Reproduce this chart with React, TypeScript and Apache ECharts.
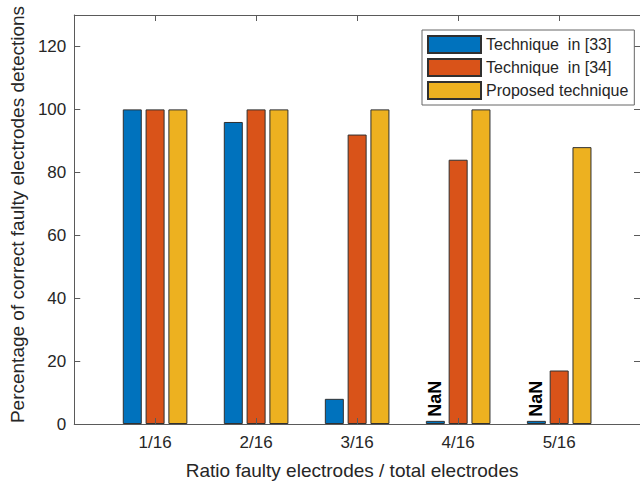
import React, { useEffect, useRef } from "react";
import * as echarts from "echarts";

// Fault ratios shown on the x axis
const categories = ["1/16", "2/16", "3/16", "4/16", "5/16"];
const positions = [1, 2, 3, 4, 5];

// Percentage of correct detections per technique (NaN cases drawn as a sliver)
const technique33 = [100, 96, 8, 1, 1];
const technique33NaN = [false, false, false, true, true];
const technique34 = [100, 100, 92, 84, 17];
const proposed = [100, 100, 100, 100, 88];

const yTicks = [0, 20, 40, 60, 80, 100, 120];

const seriesNames = ["Technique  in [33]", "Technique  in [34]", "Proposed technique"];
const colors = ["#0072BD", "#D95319", "#EDB120"];

const FONT = "'Liberation Sans', Arial, Helvetica, sans-serif";
const AXIS_COLOR = "#5a5a5a";
const TEXT_COLOR = "#262626";

export default function App() {
  const ref = useRef<HTMLDivElement>(null);

  useEffect(() => {
    if (!ref.current) return;
    const chart = echarts.init(ref.current, undefined, { renderer: "svg" });

    const barStyle = (i: number) => ({
      color: colors[i],
      borderColor: "#303030",
      borderWidth: 1,
    });

    const tickX = {
      show: true,
      inside: true,
      length: 6,
      customValues: positions,
      lineStyle: { color: AXIS_COLOR, width: 1 },
    };
    const tickY = {
      show: true,
      inside: true,
      length: 6,
      customValues: yTicks,
      lineStyle: { color: AXIS_COLOR, width: 1 },
    };

    chart.setOption({
      animation: false,
      backgroundColor: "#ffffff",
      textStyle: { fontFamily: FONT },
      grid: { left: 71, top: 15, width: 573, height: 409, containLabel: false },
      legend: {
        orient: "vertical",
        left: 422,
        top: 30,
        z: 10,
        padding: [5, 6, 5, 5],
        itemWidth: 53,
        itemHeight: 17,
        itemGap: 4,
        borderColor: "#666666",
        borderWidth: 1,
        backgroundColor: "#ffffff",
        icon: "rect",
        textStyle: { fontFamily: FONT, fontSize: 16, color: TEXT_COLOR, padding: [0, 0, 0, 0] },
        data: seriesNames,
      },
      xAxis: [
        {
          type: "value",
          min: 0.2,
          max: 5.8,
          position: "bottom",
          z: 5,
          axisLine: { show: true, onZero: false, lineStyle: { color: AXIS_COLOR, width: 1 } },
          axisTick: tickX,
          splitLine: { show: false },
          axisLabel: {
            customValues: positions,
            formatter: (v: number) => categories[Math.round(v) - 1] ?? "",
            fontFamily: FONT,
            fontSize: 17,
            color: TEXT_COLOR,
            margin: 10,
          },
          name: "Ratio faulty electrodes / total electrodes",
          nameLocation: "middle",
          nameGap: 37,
          nameTextStyle: {
            fontFamily: FONT,
            fontSize: 19,
            color: TEXT_COLOR,
            padding: [0, 10, 0, 0],
          },
        },
        {
          type: "value",
          min: 0.2,
          max: 5.8,
          position: "top",
          z: 5,
          axisLine: { show: true, onZero: false, lineStyle: { color: AXIS_COLOR, width: 1 } },
          axisTick: tickX,
          axisLabel: { show: false },
          splitLine: { show: false },
        },
      ],
      yAxis: [
        {
          type: "value",
          min: 0,
          max: 130,
          position: "left",
          z: 5,
          axisLine: { show: true, onZero: false, lineStyle: { color: AXIS_COLOR, width: 1 } },
          axisTick: tickY,
          splitLine: { show: false },
          axisLabel: {
            customValues: yTicks,
            fontFamily: FONT,
            fontSize: 17,
            color: TEXT_COLOR,
            margin: 8,
          },
          name: "Percentage of correct faulty electrodes detections",
          nameLocation: "middle",
          nameGap: 45,
          nameTextStyle: {
            fontFamily: FONT,
            fontSize: 19,
            color: TEXT_COLOR,
            padding: [0, 0, 0, 10],
          },
        },
        {
          type: "value",
          min: 0,
          max: 130,
          position: "right",
          z: 5,
          axisLine: { show: true, onZero: false, lineStyle: { color: AXIS_COLOR, width: 1 } },
          axisTick: tickY,
          axisLabel: { show: false },
          splitLine: { show: false },
        },
      ],
      series: [
        {
          name: seriesNames[0],
          type: "bar",
          barWidth: 19,
          barGap: "20%",
          itemStyle: barStyle(0),
          label: {
            show: true,
            position: "top",
            rotate: 90,
            align: "left",
            verticalAlign: "middle",
            distance: 4,
            formatter: (p: any) => (technique33NaN[p.dataIndex] ? "NaN" : ""),
            fontFamily: FONT,
            fontWeight: "bold",
            fontSize: 18,
            color: "#000000",
          },
          data: technique33.map((v, i) => [positions[i], v]),
        },
        {
          name: seriesNames[1],
          type: "bar",
          barWidth: 19,
          barGap: "20%",
          itemStyle: barStyle(1),
          data: technique34.map((v, i) => [positions[i], v]),
        },
        {
          name: seriesNames[2],
          type: "bar",
          barWidth: 19,
          barGap: "20%",
          itemStyle: barStyle(2),
          data: proposed.map((v, i) => [positions[i], v]),
        },
      ],
    });

    return () => chart.dispose();
  }, []);

  return (
    <div
      ref={ref}
      style={{ position: "absolute", left: 0, top: 0, width: 640, height: 485, background: "#fff" }}
    />
  );
}
